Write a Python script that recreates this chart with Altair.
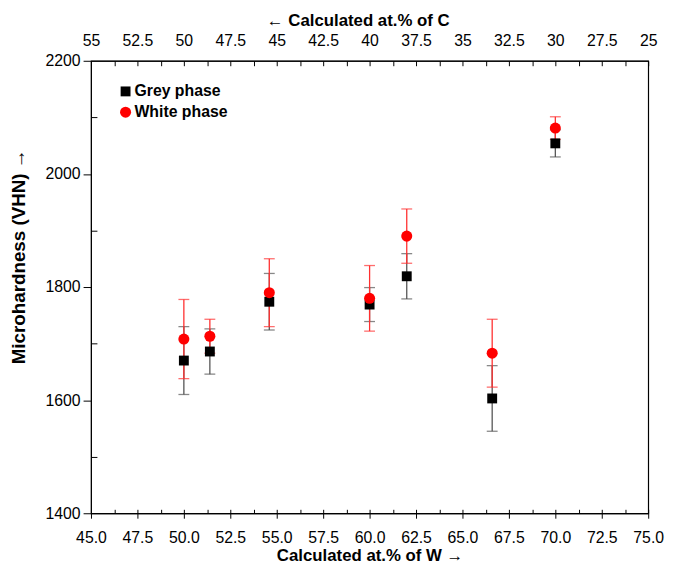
import altair as alt
import pandas as pd

# ---- data ----
W = [50.0, 51.4, 54.6, 60.0, 62.0, 66.6, 70.0]
grey_phase = [1670, 1686, 1774, 1769, 1819, 1603, 2054]
grey_err = [60, 40, 50, 30, 40, 58, 24]
white_phase = [1708, 1713, 1790, 1780, 1890, 1683, 2081]
white_err = [70, 30, 60, 58, 48, 60, 20]
phases = ["Grey phase", "White phase"]

x_major = [45.0, 47.5, 50.0, 52.5, 55.0, 57.5, 60.0, 62.5, 65.0, 67.5, 70.0, 72.5, 75.0]
x_minor = [45.0, 46.25, 47.5, 48.75, 50.0, 51.25, 52.5, 53.75, 55.0, 56.25, 57.5, 58.75,
           60.0, 61.25, 62.5, 63.75, 65.0, 66.25, 67.5, 68.75, 70.0, 71.25, 72.5, 73.75, 75.0]
y_major = [1400, 1600, 1800, 2000, 2200]
y_minor = [1500, 1700, 1900, 2100]

rows = []
for w, v, e in zip(W, grey_phase, grey_err):
    rows.append({"W": w, "phase": phases[0], "v": v, "lo": v - e, "hi": v + e})
for w, v, e in zip(W, white_phase, white_err):
    rows.append({"W": w, "phase": phases[1], "v": v, "lo": v - e, "hi": v + e})
df = pd.DataFrame(rows)

FONT = "Liberation Sans"
xs = alt.Scale(domain=[45, 75], nice=False, zero=False)
ys = alt.Scale(domain=[1400, 2200], nice=False, zero=False)

common = dict(grid=False, labelFont=FONT, labelFontSize=16, labelColor="black",
              tickColor="black", domainColor="black", titleFont=FONT,
              titleFontSize=17, titleFontWeight="bold", titleColor="black")

ax_bottom = alt.Axis(orient="bottom", values=x_major, format=".1f", tickSize=5,
                     labelPadding=12, title="Calculated at.% of W \u2192", titlePadding=2,
                     labelFlush=False, **common)
ax_bottom_in = alt.Axis(orient="bottom", values=x_minor, offset=-4, tickSize=4,
                        labels=False, domain=False, title=None, grid=False, tickColor="black")
ax_top = alt.Axis(orient="top", values=x_major, labelExpr="'' + (100 - datum.value)",
                  ticks=False, labelPadding=12, title="\u2190 Calculated at.% of C",
                  titlePadding=4, titleX=270, labelFlush=False, **common)
ax_top_in = alt.Axis(orient="top", values=x_minor, offset=-5, tickSize=5,
                     labels=False, domain=False, title=None, grid=False, tickColor="black")
common_left = dict(common)
common_left["titleFontSize"] = 19
ax_left = alt.Axis(orient="left", values=y_major, format="d", tickSize=8, labelPadding=3,
                   title="Microhardness (VHN) \u2192", titlePadding=17, titleY=198,
                   **common_left)
ax_left_in = alt.Axis(orient="left", values=y_minor, offset=-6, tickSize=6,
                      labels=False, domain=False, title=None, grid=False, tickColor="black")

base = alt.Chart(df)

axis_main = base.mark_point(opacity=0).encode(
    x=alt.X("W:Q", scale=xs, axis=ax_bottom),
    y=alt.Y("v:Q", scale=ys, axis=ax_left),
)
axis_inner = base.mark_point(opacity=0).encode(
    x=alt.X("W:Q", scale=xs, axis=ax_bottom_in),
    y=alt.Y("v:Q", scale=ys, axis=ax_left_in),
)
axis_top = base.mark_point(opacity=0).encode(
    x=alt.X("W:Q", scale=xs, axis=ax_top),
    y=alt.Y("v:Q", scale=ys, axis=None),
)
axis_top_in = base.mark_point(opacity=0).encode(
    x=alt.X("W:Q", scale=xs, axis=ax_top_in),
    y=alt.Y("v:Q", scale=ys, axis=None),
)


def bars(phase, color):
    sub = base.transform_filter(alt.datum.phase == phase)
    rule = sub.mark_rule(color=color, strokeWidth=1.3).encode(
        x=alt.X("W:Q", scale=xs, axis=None),
        y=alt.Y("lo:Q", scale=ys, axis=None),
        y2="hi:Q",
    )
    cap_lo = sub.mark_tick(color=color, orient="horizontal", size=11, thickness=1.3).encode(
        x=alt.X("W:Q", scale=xs, axis=None),
        y=alt.Y("lo:Q", scale=ys, axis=None),
    )
    cap_hi = sub.mark_tick(color=color, orient="horizontal", size=11, thickness=1.3).encode(
        x=alt.X("W:Q", scale=xs, axis=None),
        y=alt.Y("hi:Q", scale=ys, axis=None),
    )
    return [rule, cap_lo, cap_hi]


leg = dict(title=None, orient="none", legendX=27, legendY=23,
           labelFont=FONT, labelFontSize=16, labelFontWeight="bold",
           labelColor="black", symbolSize=75, rowPadding=5,
           symbolStrokeWidth=0, labelOffset=1)

points = base.mark_point(filled=True, opacity=1, strokeWidth=0).encode(
    x=alt.X("W:Q", scale=xs, axis=None),
    y=alt.Y("v:Q", scale=ys, axis=None),
    color=alt.Color("phase:N", scale=alt.Scale(domain=phases, range=["black", "#ff0000"]),
                    legend=alt.Legend(**leg)),
    shape=alt.Shape("phase:N", scale=alt.Scale(domain=phases, range=["square", "circle"]),
                    legend=alt.Legend(**leg)),
    size=alt.Size("phase:N", scale=alt.Scale(domain=phases, range=[100, 125]), legend=None),
)

layers = [axis_main, axis_inner, axis_top, axis_top_in]
layers += bars(phases[0], "#555555")
layers += bars(phases[1], "#ff3030")
layers.append(points)

chart = alt.layer(*layers).resolve_axis(x="independent", y="independent").properties(
    width=564, height=458,
    autosize=alt.AutoSizeParams(type="none"),
    padding={"left": 84, "top": 50, "right": 17, "bottom": 54},
    background="white",
).configure_view(stroke="black", strokeWidth=1.2)

chart.save("out.html", embed_options={"renderer": "svg", "actions": False})
